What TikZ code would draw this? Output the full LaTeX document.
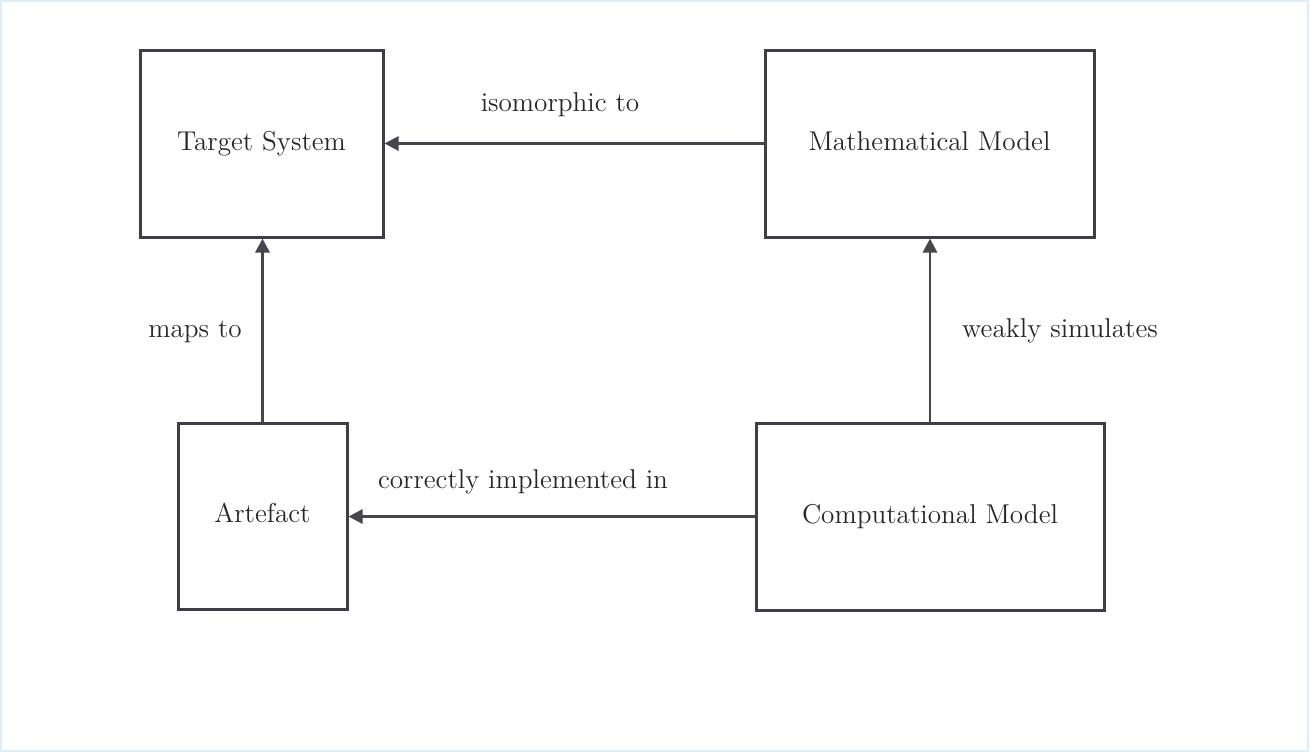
\documentclass[tikz,border=0pt]{standalone}
\usetikzlibrary{arrows.meta}
\definecolor{framecol}{RGB}{220,238,248}
\definecolor{boxline}{RGB}{62,62,70}
\definecolor{arrowline}{RGB}{70,70,78}
\definecolor{txt}{RGB}{38,38,44}
\tikzset{
  modelbox/.style={draw=boxline, line width=1.5pt, fill=white, text=txt,
    font=\fontsize{13.6}{16}\selectfont, inner sep=0pt,
    text height=9.5pt, text depth=3pt},
  link/.style={draw=arrowline, line width=1.4pt,
    -{Triangle[length=7pt,width=7pt]}},
  linklabel/.style={text=txt, font=\fontsize{13.6}{16}\selectfont,
    inner sep=0pt, anchor=base}
}
\begin{document}
\begin{tikzpicture}[x=0.5pt,y=-0.5pt]
  % page area with its thin frame
  \fill[white] (0,0) rectangle (1309,752);
  \draw[framecol, line width=1pt] (1,1) rectangle (1308,751);
  \useasboundingbox (0,0) rectangle (1309,752);

  % the four models
  \node[modelbox, minimum width=121.5pt, minimum height=93.5pt] (target) at (261.5,143.5) {Target System};
  \node[modelbox, minimum width=164.5pt, minimum height=93.5pt] (math) at (929.5,143.5) {Mathematical Model};
  \node[modelbox, minimum width=84.5pt, minimum height=93pt] (artefact) at (262.5,516) {Artefact};
  \node[modelbox, minimum width=174pt, minimum height=93.5pt] (comp) at (930,516.5) {Computational Model};

  % relations between them
  \draw[link] (math.west) -- (target.east);
  \draw[link] (artefact.north) -- (artefact.north |- target.south);
  \draw[link] (comp.north) -- (comp.north |- math.south);
  \draw[link] (comp.west) -- (comp.west -| artefact.east);

  % relation labels
  \node[linklabel] (l1) at (560,111) {isomorphic to};
  \node[linklabel] (l2) at (195,337) {maps to};
  \node[linklabel] (l3) at (1060,337) {weakly simulates};
  \node[linklabel] (l4) at (523,488) {correctly implemented in};
\end{tikzpicture}
\end{document}
